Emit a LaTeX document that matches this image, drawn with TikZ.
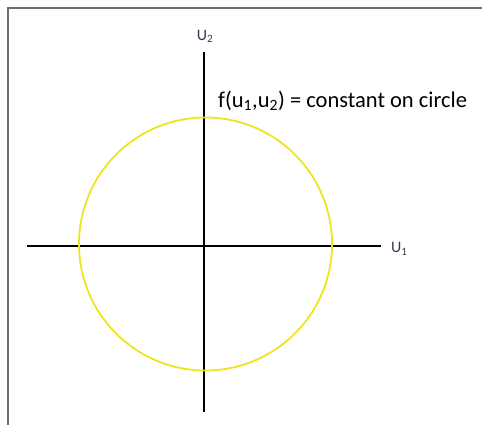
\documentclass[tikz,border=0pt]{standalone}
\usepackage{fontspec}
\setmainfont{Carlito}
\usepackage{tikz}
\usetikzlibrary{positioning}
\definecolor{cyellow}{RGB}{240,228,30}
\definecolor{fgrey}{RGB}{110,110,110}
\definecolor{lblue}{RGB}{50,60,80}

\begin{document}
\begin{tikzpicture}[x=1pt,y=-1pt,axis/.style={line width=1.5pt,black},lbl/.style={font=\fontsize{16}{18}\selectfont,text=lblue,inner sep=0pt}]
      \tikzstyle{frame}=[draw=fgrey,line width=1.4pt]
      \useasboundingbox (0,0) rectangle (482,425);
      \draw [frame] (8,425) -- (8,8) -- (482,8);
      % axes
      \coordinate (xl) at (27,246);
      \coordinate (xr) at (381,246);
      \coordinate (yt) at (204,52);
      \coordinate (yb) at (204,412);
      \draw [axis] (xl) -- (xr);
      \draw [axis] (yt) -- (yb);
      % circle
      \node [draw=cyellow,line width=1.8pt,circle,minimum size=253pt,inner sep=0pt] (circ) at (205.5,244) {};
      \node [lbl,anchor=west] (u1) at (391,249) {U\textsubscript{1}};
      \node [lbl,anchor=south] (u2) at (205,43) {U\textsubscript{2}};
      \node [anchor=west,inner sep=0pt,font=\fontsize{22.5}{24}\selectfont] (ftext) at (218,101) {f(u\textsubscript{1},u\textsubscript{2}) = constant on circle};
  \end{tikzpicture}
\end{document}
